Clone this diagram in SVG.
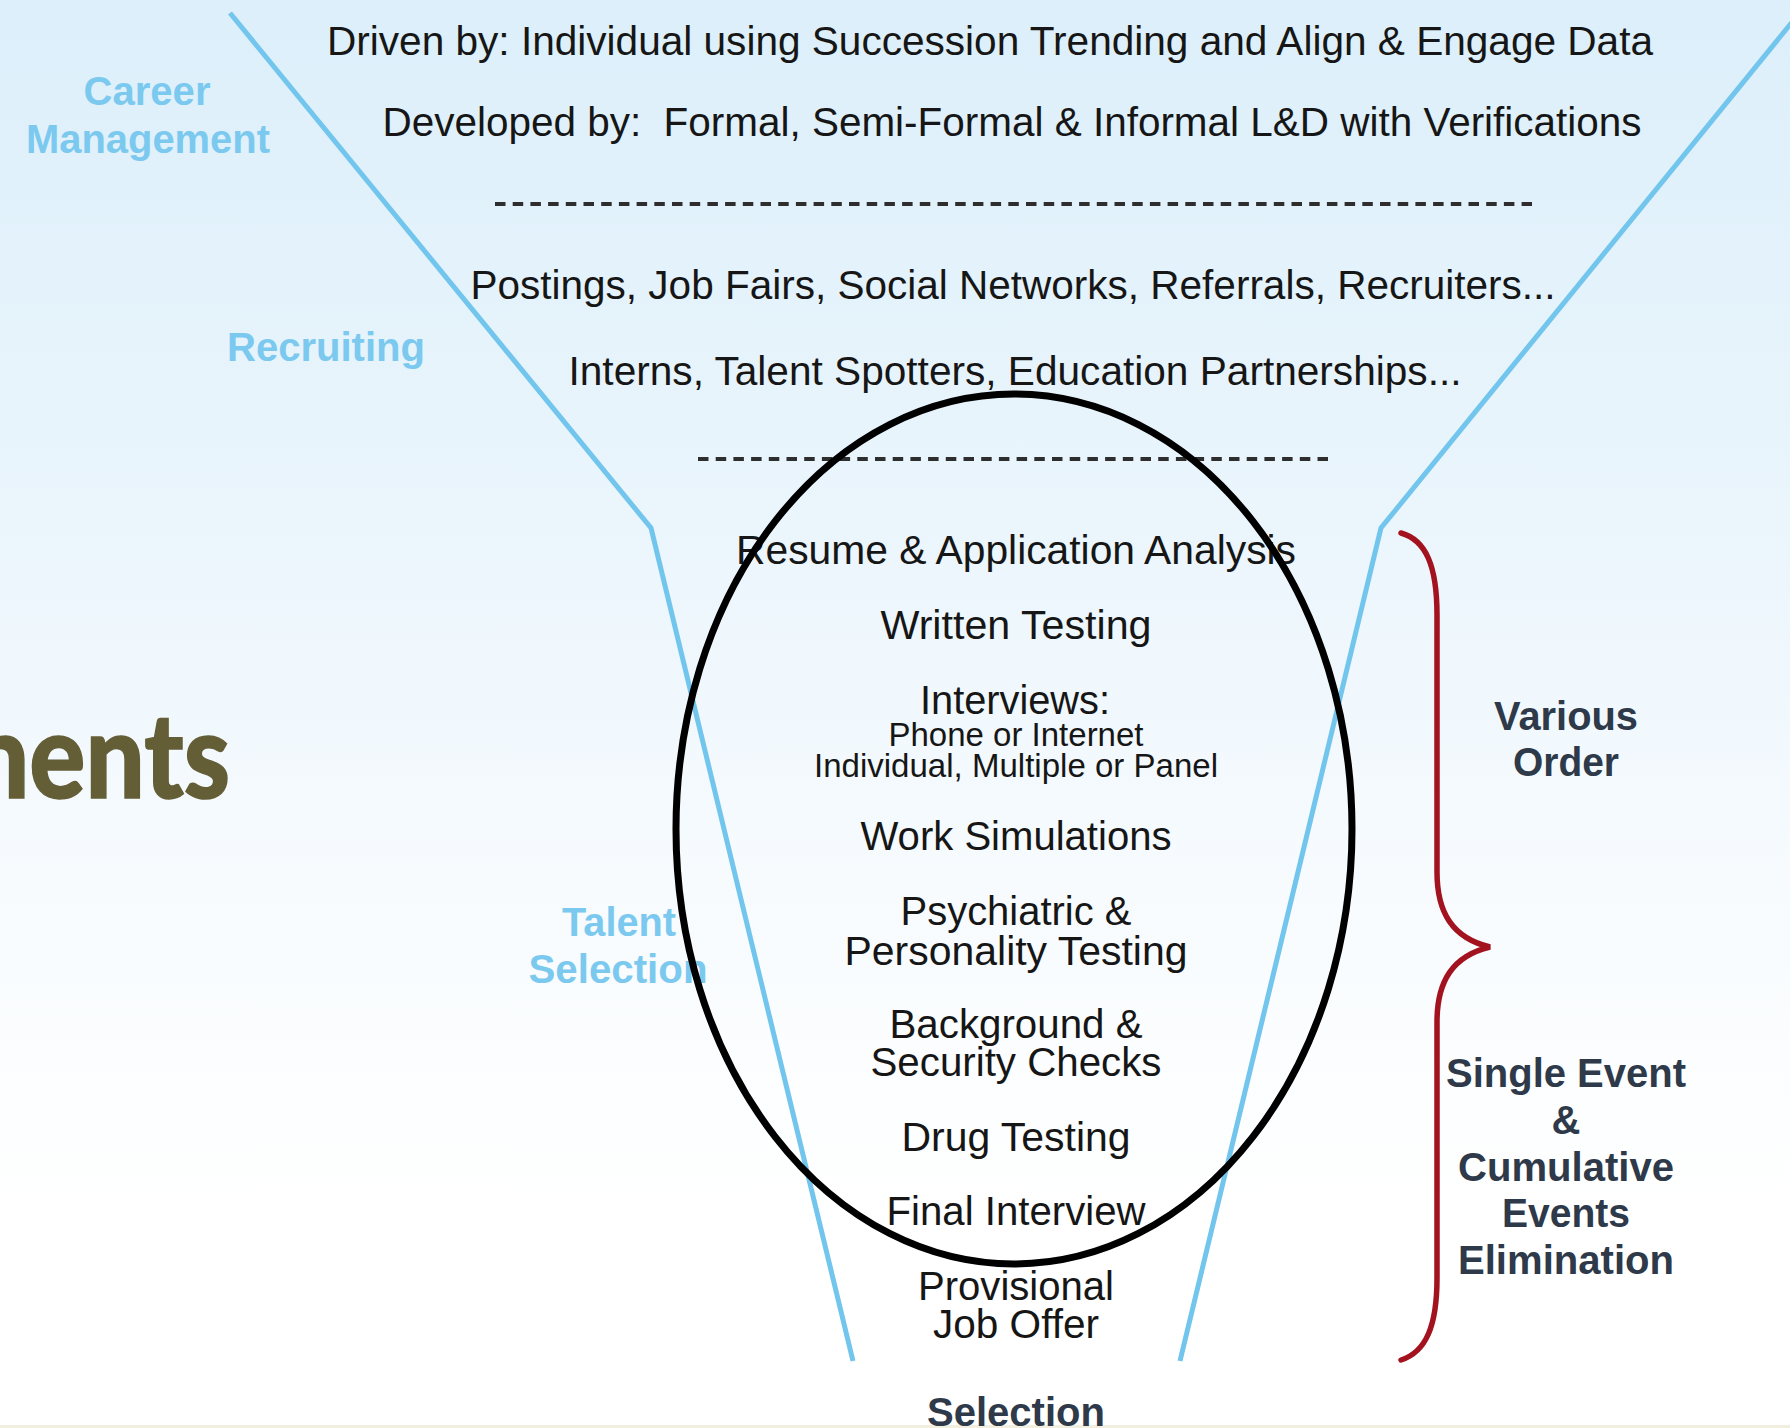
<svg xmlns="http://www.w3.org/2000/svg" width="1790" height="1428" viewBox="0 0 1790 1428">
  <defs>
    <linearGradient id="bg" x1="0" y1="0" x2="0" y2="1">
      <stop offset="0" stop-color="#dceffa"/>
      <stop offset="0.35" stop-color="#eaf5fc"/>
      <stop offset="0.62" stop-color="#f7fbfe"/>
      <stop offset="0.85" stop-color="#ffffff"/>
      <stop offset="1" stop-color="#ffffff"/>
    </linearGradient>
    <style>
      .t { font-family: "Liberation Sans", Arial, sans-serif; fill: #161616; text-anchor: middle; }
      .big { font-size: 40px; }
      .small { font-size: 33px; }
      .stage { font-family: "Liberation Sans", Arial, sans-serif; font-weight: bold; font-size: 40px; fill: #7cc9ef; text-anchor: middle; }
      .note { font-family: "Liberation Sans", Arial, sans-serif; font-weight: bold; font-size: 40px; fill: #2e3949; text-anchor: middle; }
      .funnel { fill: none; stroke: #72c5ec; stroke-width: 5; stroke-linejoin: miter; }
      .divider { fill: none; stroke: #2e2e2e; stroke-width: 4; stroke-dasharray: 10.5 7.2; }
      .brace { fill: none; stroke: #a3121f; stroke-width: 5.5; stroke-linecap: round; stroke-linejoin: miter; }
      .ring { fill: none; stroke: #000000; stroke-width: 7; }
    </style>
  </defs>

  <!-- backdrop -->
  <rect x="0" y="0" width="1790" height="1428" fill="url(#bg)"/>
  <rect x="0" y="1425" width="1790" height="3" fill="#f2eee0"/>

  <!-- slide title fragment, running off the left edge -->
  <text x="-30" y="798" font-family="Lato, 'Open Sans', sans-serif" font-weight="900" font-size="118" fill="#645e37" stroke="#645e37" stroke-width="1.5" textLength="260" lengthAdjust="spacingAndGlyphs">nents</text>

  <!-- funnel outline, brace -->
  <g id="connectors">
    <polyline class="funnel" points="230,13 651,528 853,1361"/>
    <polyline class="funnel" points="1810,0 1381,528 1180,1361"/>
    <path class="brace" d="M1401,533 C1426,540 1437,566 1437,615 L1437,872 C1437,912 1452,938 1490,947 C1452,956 1437,982 1437,1022 L1437,1278 C1437,1326 1426,1352 1401,1360"/>
  </g>

  <!-- stage labels -->
  <g id="career-management">
    <text class="stage" x="147" y="105" textLength="127" lengthAdjust="spacingAndGlyphs">Career</text>
    <text class="stage" x="148" y="153" textLength="244" lengthAdjust="spacingAndGlyphs">Management</text>
  </g>
  <g id="recruiting">
    <text class="stage" x="326" y="361" textLength="198" lengthAdjust="spacingAndGlyphs">Recruiting</text>
  </g>
  <g id="talent-selection">
    <text class="stage" x="619" y="936" textLength="114" lengthAdjust="spacingAndGlyphs">Talent</text>
    <text class="stage" x="618" y="983" textLength="179" lengthAdjust="spacingAndGlyphs">Selection</text>
  </g>

  <!-- career management drivers -->
  <g id="career-drivers">
    <text class="t big" x="990" y="55" textLength="1326" lengthAdjust="spacingAndGlyphs">Driven by: Individual using Succession Trending and Align &amp; Engage Data</text>
    <text class="t big" x="1012" y="136" textLength="1259" lengthAdjust="spacingAndGlyphs" xml:space="preserve">Developed by:  Formal, Semi-Formal &amp; Informal L&amp;D with Verifications</text>
  </g>
  <line class="divider" x1="495" y1="204" x2="1532" y2="204"/>

  <!-- recruiting channels -->
  <g id="recruiting-channels">
    <text class="t big" x="1013" y="299" textLength="1085" lengthAdjust="spacingAndGlyphs">Postings, Job Fairs, Social Networks, Referrals, Recruiters...</text>
    <text class="t big" x="1015" y="385" textLength="893" lengthAdjust="spacingAndGlyphs">Interns, Talent Spotters, Education Partnerships...</text>
  </g>
  <line class="divider" x1="698" y1="459" x2="1328" y2="459"/>

  <!-- selection steps -->
  <g id="step-resume"><text class="t big" x="1016" y="564" textLength="560" lengthAdjust="spacingAndGlyphs">Resume &amp; Application Analysis</text></g>
  <g id="step-written"><text class="t big" x="1016" y="639" textLength="271" lengthAdjust="spacingAndGlyphs">Written Testing</text></g>
  <g id="step-interviews">
    <text class="t big" x="1015" y="714" textLength="190" lengthAdjust="spacingAndGlyphs">Interviews:</text>
    <text class="t small" x="1016" y="746" textLength="255" lengthAdjust="spacingAndGlyphs">Phone or Internet</text>
    <text class="t small" x="1016" y="777" textLength="404" lengthAdjust="spacingAndGlyphs">Individual, Multiple or Panel</text>
  </g>
  <g id="step-simulations"><text class="t big" x="1016" y="850" textLength="311" lengthAdjust="spacingAndGlyphs">Work Simulations</text></g>
  <g id="step-psych">
    <text class="t big" x="1016" y="925" textLength="231" lengthAdjust="spacingAndGlyphs">Psychiatric &amp;</text>
    <text class="t big" x="1016" y="965" textLength="343" lengthAdjust="spacingAndGlyphs">Personality Testing</text>
  </g>
  <g id="step-background">
    <text class="t big" x="1016" y="1038" textLength="253" lengthAdjust="spacingAndGlyphs">Background &amp;</text>
    <text class="t big" x="1016" y="1076" textLength="291" lengthAdjust="spacingAndGlyphs">Security Checks</text>
  </g>
  <g id="step-drug"><text class="t big" x="1016" y="1151" textLength="229" lengthAdjust="spacingAndGlyphs">Drug Testing</text></g>
  <g id="step-final"><text class="t big" x="1016" y="1225" textLength="259" lengthAdjust="spacingAndGlyphs">Final Interview</text></g>
  <g id="step-offer">
    <text class="t big" x="1016" y="1300" textLength="196" lengthAdjust="spacingAndGlyphs">Provisional</text>
    <text class="t big" x="1016" y="1338" textLength="166" lengthAdjust="spacingAndGlyphs">Job Offer</text>
  </g>
  <g id="selection"><text class="note" x="1016" y="1426" textLength="178" lengthAdjust="spacingAndGlyphs">Selection</text></g>

  <!-- ring around the screening steps -->
  <g id="screening-ring">
    <ellipse class="ring" cx="1014" cy="829" rx="338" ry="435"/>
  </g>

  <!-- brace notes -->
  <g id="various-order">
    <text class="note" x="1566" y="730" textLength="144" lengthAdjust="spacingAndGlyphs">Various</text>
    <text class="note" x="1566" y="776" textLength="106" lengthAdjust="spacingAndGlyphs">Order</text>
  </g>
  <g id="elimination">
    <text class="note" x="1566" y="1087" textLength="240" lengthAdjust="spacingAndGlyphs">Single Event</text>
    <text class="note" x="1566" y="1134">&amp;</text>
    <text class="note" x="1566" y="1181" textLength="216" lengthAdjust="spacingAndGlyphs">Cumulative</text>
    <text class="note" x="1566" y="1227" textLength="128" lengthAdjust="spacingAndGlyphs">Events</text>
    <text class="note" x="1566" y="1274" textLength="216" lengthAdjust="spacingAndGlyphs">Elimination</text>
  </g>
</svg>
